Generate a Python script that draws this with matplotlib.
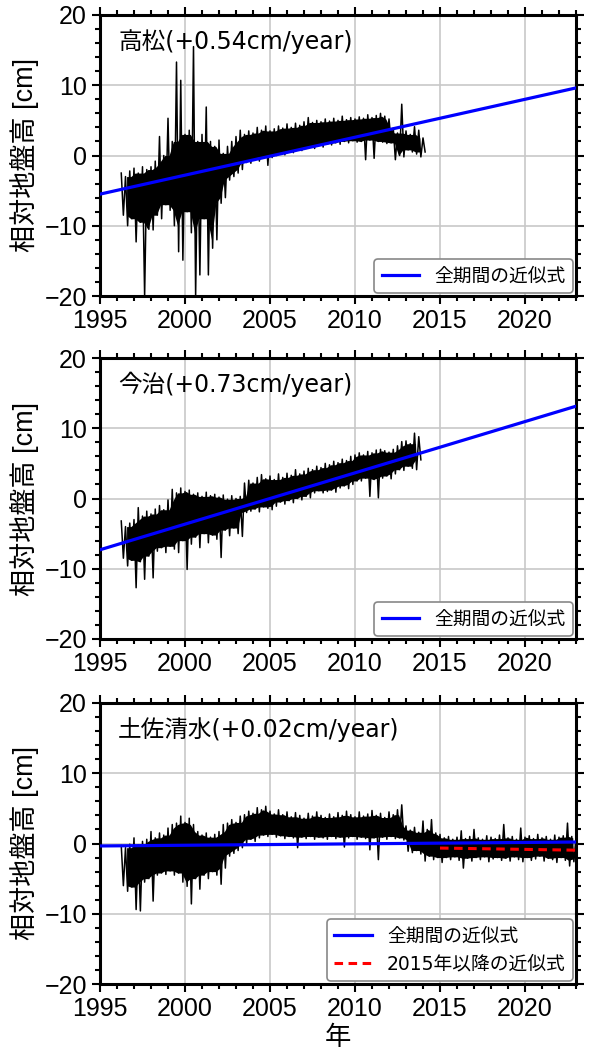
import numpy as np
import matplotlib
matplotlib.use('Agg')
import matplotlib.pyplot as plt
from matplotlib.ticker import MultipleLocator

plt.rcParams['font.family'] = ['Liberation Sans', 'Noto Sans CJK JP']
jp_font = ['DejaVu Sans', 'Noto Sans CJK JP']

# quarterly envelope of the daily ground height series (cm), from 1996.25
start_year = 1996.25
step = 0.25

takamatsu_hi = [-2.5, -3.0, -2.2, -1.8, -2.5, -1.6, -2.0, -1.6, -0.8, 2.7, 0.0, 5.3,
                2.0, 13.3, 10.7, 3.0, 3.6, 15.5, 2.0, 3.0, 6.9, 2.0, 1.3, 2.2,
                0.3, 1.3, 2.0, 2.7, 3.6, 3.0, 3.5, 3.2, 4.0, 3.6, 4.2, 3.5,
                3.8, 4.2, 3.9, 4.5, 4.0, 4.6, 4.3, 4.8, 5.4, 4.7, 5.0, 4.8,
                5.2, 4.9, 5.3, 5.0, 5.6, 5.1, 5.4, 5.2, 5.5, 5.3, 5.8, 5.4,
                5.7, 6.0, 5.6, 5.2, 3.9, 3.2, 7.3, 3.5, 3.0, 4.1, 3.6, 2.5]
takamatsu_lo = [-8.5, -10.0, -9.0, -12.3, -9.5, -20.0, -10.5, -10.6, -8.5, -9.0, -7.0, -7.8,
                -10.0, -13.7, -14.9, -8.0, -11.0, -20.0, -17.0, -9.0, -17.0, -13.2, -12.0, -6.8,
                -6.0, -3.5, -3.0, -2.5, -2.0, -1.0, -1.1, -0.5, -0.8, -0.2, -1.4, -0.3,
                0.0, 0.3, 0.1, 0.6, 0.4, 0.8, 0.7, 1.0, 1.2, 1.0, 1.4, 1.2,
                1.6, 1.5, 1.8, 1.6, 2.0, 1.8, 2.1, 1.9, 2.0, -0.6, 2.2, -0.4,
                2.0, 1.9, 1.7, 1.8, -0.6, 0.0, -0.2, 0.8, 0.5, 0.2, -0.2, 0.5]

imabari_hi = [-3.2, -4.0, -3.5, -3.0, -1.3, -2.5, -1.8, -2.2, -1.5, -1.0, -1.6, -0.2,
              1.3, 0.8, 1.5, 1.0, 1.2, 0.6, 0.8, 0.3, 0.9, 0.4, 0.6, 0.2,
              0.5, -0.1, 0.4, 0.0, 0.3, 2.2, 2.6, 2.2, 3.0, 3.4, 2.8, 3.2,
              2.7, 3.5, 3.0, 3.6, 3.3, 4.1, 3.5, 3.9, 4.3, 4.1, 4.6, 4.4,
              5.0, 4.8, 5.3, 5.1, 5.6, 5.4, 6.0, 6.2, 6.5, 6.2, 6.7, 6.5,
              6.9, 7.0, 6.8, 6.6, 7.0, 7.5, 8.1, 8.2, 7.8, 9.3, 8.8]
imabari_lo = [-8.5, -9.6, -8.8, -12.7, -9.0, -11.5, -8.2, -11.3, -7.5, -7.0, -7.7, -6.8,
              -7.2, -7.7, -6.0, -10.1, -6.5, -5.5, -7.0, -5.0, -6.3, -5.2, -5.8, -8.4,
              -4.5, -5.3, -4.2, -5.0, -5.4, -2.0, -1.8, -1.5, -1.9, -1.2, -1.4, -1.6,
              -1.1, -0.5, -0.8, -0.3, -0.6, 0.0, -0.2, 0.3, 0.1, 0.8, 1.1, 0.8,
              1.0, 1.2, 0.9, 1.5, 1.8, 1.4, 2.0, 2.5, 2.5, 2.9, 0.3, 2.7,
              0.1, 2.9, 3.2, 2.8, 3.5, 4.1, 4.0, 4.6, 4.3, 4.1, 5.5]

tosashimizu_hi = [-0.3, -0.6, -0.1, 0.8, -0.2, 0.3, 0.6, 1.7, 0.8, 1.5, 1.2, 2.2,
                  2.7, 2.9, 3.9, 3.0, 3.6, 2.7, 1.7, 1.2, 1.5, 0.9, 1.3, 1.7,
                  2.7, 2.9, 3.4, 3.0, 3.9, 4.1, 4.6, 4.3, 5.1, 4.8, 5.3, 4.6,
                  4.2, 4.8, 4.1, 4.5, 3.8, 4.4, 4.0, 3.6, 4.3, 3.9, 4.5, 4.0,
                  3.7, 4.2, 3.8, 4.4, 4.0, 4.6, 4.1, 3.8, 4.5, 3.9, 4.2, 4.7,
                  4.0, 4.3, 3.7, 4.5, 4.1, 4.8, 5.5, 2.5, 1.9, 2.3, 1.6, 3.2,
                  2.0, 3.4, 1.5, 1.3, 0.8, 1.0, 0.6, 0.9, 1.8, 0.7, 1.0, 2.0,
                  0.8, 0.6, 1.1, 0.9, 0.7, 1.2, 2.7, 0.8, 1.0, 0.6, 2.2, 0.9,
                  1.1, 0.7, 1.3, 0.8, 1.0, 0.6, 1.2, 0.9, 1.1, 2.9, 1.0, 0.8]
tosashimizu_lo = [-6.0, -6.8, -6.2, -9.4, -9.6, -5.5, -5.0, -8.2, -4.5, -4.2, -4.4, -3.9,
                  -4.5, -4.2, -5.5, -6.1, -8.6, -5.0, -6.5, -4.5, -5.0, -4.0, -4.5, -5.8,
                  -3.5, -1.8, -1.4, -1.0, -0.6, 0.0, 0.6, 0.3, 0.8, 1.2, 1.0, 1.3,
                  0.9, 1.1, 0.7, 1.0, 0.8, -0.6, 0.9, 0.7, 1.0, 0.6, 0.9, 0.8,
                  0.6, 1.0, 0.7, 0.9, -0.5, 0.8, 1.0, 0.6, 0.9, 0.7, -0.9, 0.8,
                  -2.3, 0.9, 0.6, 1.0, 0.7, 0.8, 0.5, -1.1, -1.3, -1.0, -1.5, -2.5,
                  -1.8, -2.3, -2.0, -2.7, -2.0, -2.3, -1.9, -2.4, -3.5, -2.1, -2.5, -2.0,
                  -2.3, -1.9, -2.6, -2.2, -2.0, -2.4, -2.1, -2.5, -1.9, -2.3, -2.6, -2.0,
                  -2.4, -2.2, -1.8, -2.5, -2.1, -2.3, -2.7, -2.0, -2.4, -3.2, -2.6, -2.2]

stations = ['高松', '今治', '土佐清水']
rates = [0.54, 0.73, 0.02]          # cm/year
fit_at_1995 = [-5.5, -7.3, -0.35]   # fitted value at 1995
recent_years = [2015, 2023]
recent_fit = [-0.65, -0.95]         # 2015年以降の近似式 (土佐清水)

highs = [takamatsu_hi, imabari_hi, tosashimizu_hi]
lows = [takamatsu_lo, imabari_lo, tosashimizu_lo]


def zigzag(hi, lo):
    v = np.column_stack([hi, lo]).ravel()
    t = start_year + 0.5 * step * np.arange(len(v))
    return t, v


def core(hi, lo):
    # inner band without the isolated spikes
    hi = np.array(hi)
    lo = np.array(lo)
    h = np.minimum(np.minimum(hi, np.roll(hi, 1)), np.roll(hi, -1))
    l = np.maximum(np.maximum(lo, np.roll(lo, 1)), np.roll(lo, -1))
    t = start_year + step * np.arange(len(hi)) + 0.25 * step
    return t[1:-1], l[1:-1], np.maximum(h, l)[1:-1]


fig = plt.figure(figsize=(5.93, 10.51), dpi=100)
tops = [15, 358, 703]
for i, name in enumerate(stations):
    top = tops[i]
    ax = fig.add_axes([100 / 593, 1 - (top + 281) / 1051, 476 / 593, 281 / 1051])

    t, v = zigzag(highs[i], lows[i])
    ax.plot(t, v, color='black', lw=1.1, zorder=2)
    tc, lc, hc = core(highs[i], lows[i])
    ax.fill_between(tc, lc, hc, color='black', lw=0, zorder=2)

    xs = np.array([1995, 2023])
    ax.plot(xs, fit_at_1995[i] + rates[i] * (xs - 1995), color='blue', lw=2.3,
            label='全期間の近似式', zorder=3)
    if i == 2:
        ax.plot(recent_years, recent_fit, color='red', lw=2.2, ls=(0, (2.8, 1.8)),
                label='2015年以降の近似式', zorder=3)

    ax.text(0.038, 0.905, '%s(+%.2fcm/year)' % (name, rates[i]), transform=ax.transAxes,
            fontsize=17, family=jp_font, va='center', ha='left')

    ax.set_xlim(1995, 2023)
    ax.set_ylim(-20, 20)
    ax.xaxis.set_major_locator(MultipleLocator(5))
    ax.xaxis.set_minor_locator(MultipleLocator(1))
    ax.yaxis.set_major_locator(MultipleLocator(10))
    ax.yaxis.set_minor_locator(MultipleLocator(2))
    ax.grid(True, which='major', color='#c8c8c8', lw=1.2)
    ax.set_axisbelow(True)
    ax.tick_params(which='both', direction='out', top=True, right=True, width=1.5,
                   labelsize=18)
    ax.tick_params(which='major', length=6)
    ax.tick_params(which='minor', length=3.5)
    for sp in ax.spines.values():
        sp.set_linewidth(2.2)
    ax.set_ylabel('相対地盤高 [cm]', fontsize=19.5, labelpad=4)

    leg = ax.legend(loc='lower right', borderaxespad=0.15,
                    prop={'family': jp_font, 'size': 13.5}, framealpha=1,
                    edgecolor='#888888')
    leg.get_frame().set_linewidth(1.2)

ax.set_xlabel('年', fontsize=19, labelpad=3)

fig.savefig('out.png', dpi=100)
